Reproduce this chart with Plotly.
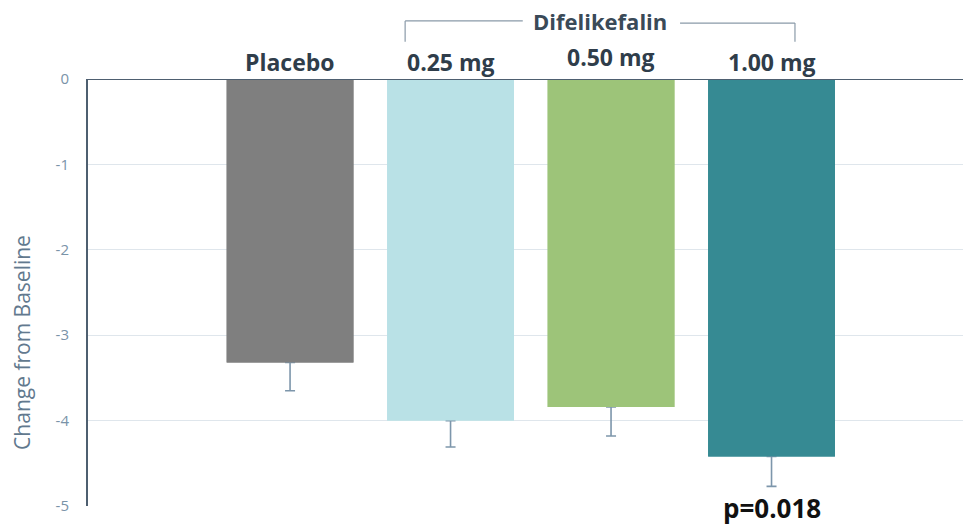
import plotly.graph_objects as go

categories = ["Placebo", "0.25 mg", "0.50 mg", "1.00 mg"]
values = [-3.32, -4.00, -3.84, -4.42]
err_minus = [0.33, 0.31, 0.34, 0.35]
bar_colors = ["#7f7f7f", "#b9e1e6", "#9dc479", "#368a93"]
label_offsets = [0, 0, 5, 0]
group_label = "Difelikefalin"
p_label = "p=0.018"
y_title = "Change from Baseline"
y_ticks = [0, -1, -2, -3, -4, -5]

x = list(range(len(categories)))

fig = go.Figure()
# bars carrying the (downward-only) error bars
fig.add_trace(go.Bar(
    x=x, y=values, width=0.79,
    marker=dict(color=bar_colors, line=dict(width=0)),
    error_y=dict(type="data", symmetric=False, array=[0]*len(values),
                 arrayminus=err_minus, color="#7d96ab", thickness=1.6, width=5),
    showlegend=False, hoverinfo="skip",
))
# same bars drawn on top, hiding the zero-length upper cap
fig.add_trace(go.Bar(
    x=x, y=values, width=0.79,
    marker=dict(color=bar_colors, line=dict(width=0)),
    showlegend=False, hoverinfo="skip",
))

ann = []
for i, c in enumerate(categories):
    ann.append(dict(x=i, y=1, xref="x", yref="paper", text="<b>%s</b>" % c,
                    showarrow=False, yanchor="middle", yshift=17 + label_offsets[i],
                    font=dict(family="Open Sans", size=23, color="#2f3d4a")))
# group label
ann.append(dict(x=(x[1] + x[3]) / 2 - 0.07, y=1, xref="x", yref="paper",
                text="<b>%s</b>" % group_label, showarrow=False, yanchor="middle",
                yshift=58, font=dict(family="Open Sans", size=22, color="#3a4a58")))
ann.append(dict(x=x[3], y=-5, xref="x", yref="y", text="<b>%s</b>" % p_label,
                showarrow=False, yanchor="middle", yshift=-2,
                font=dict(family="Open Sans", size=26, color="#111111")))
# y-axis title (offset downward like the reference)
ann.append(dict(x=0, y=0.382, xref="paper", yref="paper", xshift=-66,
                text=y_title, textangle=-90, showarrow=False,
                xanchor="center", yanchor="middle",
                font=dict(family="Open Sans", size=21, color="#62798e")))

line_c = "#8a9aa8"
shapes = [
    dict(type="line", xref="x", yref="paper", x0=0.717, x1=0.717, y0=1.087, y1=1.136,
         line=dict(color=line_c, width=1.2)),
    dict(type="line", xref="x", yref="paper", x0=0.717, x1=1.45, y0=1.136, y1=1.136,
         line=dict(color=line_c, width=1.2)),
    dict(type="line", xref="x", yref="paper", x0=2.43, x1=3.146, y0=1.131, y1=1.131,
         line=dict(color=line_c, width=1.2)),
    dict(type="line", xref="x", yref="paper", x0=3.146, x1=3.146, y0=1.087, y1=1.131,
         line=dict(color=line_c, width=1.2)),
    dict(type="line", xref="paper", yref="y", x0=0, x1=1, y0=0, y1=0,
         line=dict(color="#4e5f70", width=2)),
]

fig.update_layout(
    width=963, height=527,
    barmode="overlay",
    margin=dict(l=88, r=0, t=79, b=21),
    paper_bgcolor="white", plot_bgcolor="white",
    font=dict(family="Open Sans"),
    xaxis=dict(range=[-1.259, 4.193], showticklabels=False, showgrid=False,
               zeroline=False, showline=False, fixedrange=True),
    yaxis=dict(range=[-5, 0], tickvals=y_ticks, ticktext=[str(v) for v in y_ticks],
               showgrid=True, gridcolor="#dfe6ec", gridwidth=1.2,
               zeroline=False, showline=True, linecolor="#4e5f70", linewidth=2,
               ticks="", ticklabelstandoff=14, fixedrange=True,
               tickfont=dict(family="Open Sans", size=15, color="#7a93a8")),
    annotations=ann, shapes=shapes,
)

fig.write_html("out.html", config={"displayModeBar": False},
               post_script="document.body.style.margin='0';document.body.style.overflow='hidden';")
